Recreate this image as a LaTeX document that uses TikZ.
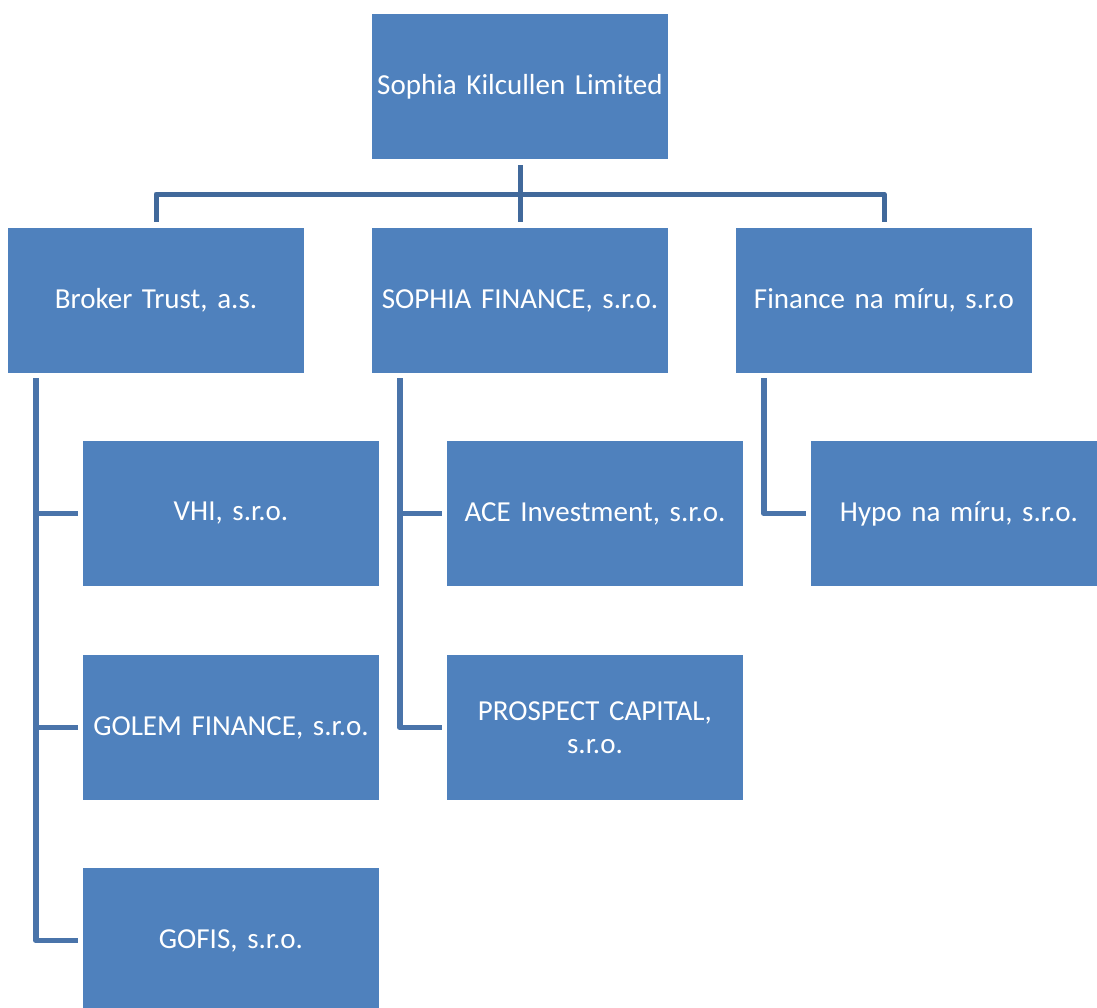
\documentclass[tikz,border=0pt]{standalone}
\usepackage{fontspec}
\setmainfont{Carlito}
\definecolor{boxblue}{HTML}{4F81BD}
\definecolor{busblue}{HTML}{41699B}
\definecolor{kidblue}{HTML}{4A74AA}
\newcommand\orgfont{\fontsize{29}{33}\selectfont\hyphenpenalty=10000\relax\exhyphenpenalty=10000\relax}
\begin{document}
\begin{tikzpicture}[x=1pt,y=-1pt,
  orgbox/.style={fill=boxblue, draw=none, text=white, inner sep=0pt,
    minimum width=296pt, minimum height=145pt, text width=286pt, align=center,
    font=\orgfont},
  bus/.style={draw=busblue, line width=5pt, line join=round},
  kid/.style={draw=kidblue, line width=5.5pt, line join=round}]
\clip (0,0) rectangle (1097,1007);
\useasboundingbox (0,0) rectangle (1097,1007);
% top
\node[orgbox] (top) at (520,86.5) {Sophia Kilcullen Limited};
% second row
\node[orgbox] (bt) at (156,300.5) {Broker Trust, a.s.};
\node[orgbox] (sf) at (520,300.5) {SOPHIA FINANCE, s.r.o.};
\node[orgbox] (fm) at (884,300.5) {Finance na míru, s.r.o};
% third rows
\node[orgbox] (vhi) at (231,513.5) {VHI, s.r.o.};
\node[orgbox] (golem) at (231,727.5) {GOLEM FINANCE, s.r.o.};
\node[orgbox] (gofis) at (231,940.5) {GOFIS, s.r.o.};
\node[orgbox] (ace) at (595,513.5) {ACE Investment, s.r.o.};
\node[orgbox] (pc) at (595,727.5) {PROSPECT CAPITAL,\\ s.r.o.};
\node[orgbox] (hypo) at (959,513.5) {Hypo na míru, s.r.o.};
% top connectors
\coordinate (busc) at (520,194);
\draw[bus] ([yshift=-6pt]top.south) -- ([yshift=6pt]sf.north);
\draw[bus] ([yshift=6pt]bt.north) |- (busc) -| ([yshift=6pt]fm.north);
% child connectors
\coordinate (btt) at ([shift={(28pt,-5pt)}]bt.south west);
\coordinate (sft) at ([shift={(28pt,-5pt)}]sf.south west);
\coordinate (fmt) at ([shift={(28pt,-5pt)}]fm.south west);
\draw[kid] (btt) |- ([xshift=-5pt]vhi.west);
\draw[kid] (btt) |- ([xshift=-5pt]golem.west);
\draw[kid] (btt) |- ([xshift=-5pt]gofis.west);
\draw[kid] (sft) |- ([xshift=-5pt]ace.west);
\draw[kid] (sft) |- ([xshift=-5pt]pc.west);
\draw[kid] (fmt) |- ([xshift=-5pt]hypo.west);
\end{tikzpicture}
\end{document}
